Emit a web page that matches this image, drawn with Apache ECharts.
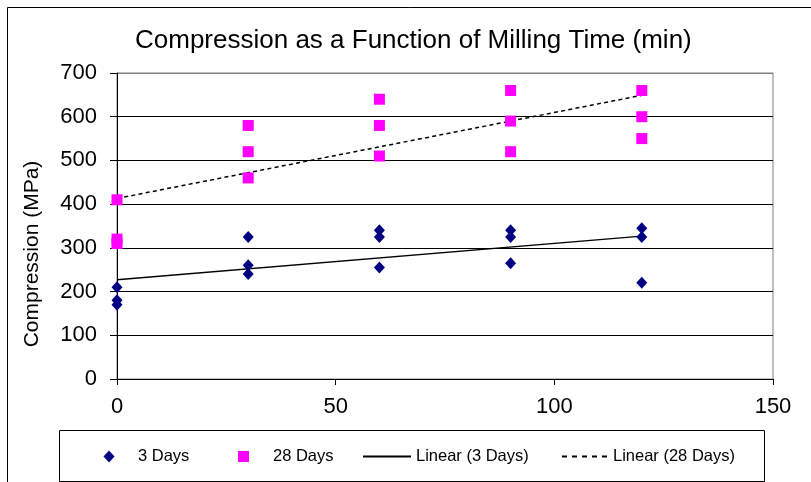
<!DOCTYPE html>
<html>
<head>
<meta charset="utf-8">
<script src="https://cdn.jsdelivr.net/npm/echarts@6/dist/echarts.min.js"></script>
<style>html,body{margin:0;padding:0;background:#fff;}#c{width:811px;height:482px;}</style>
</head>
<body>
<div id="c"></div>
<script>
// Data
const millingTime = [0, 0, 0, 30, 30, 30, 60, 60, 60, 90, 90, 90, 120, 120, 120];
const days3 = [210, 180, 170, 325, 260, 240, 340, 325, 255, 340, 325, 265, 345, 325, 220];
const days28 = [410, 320, 310, 580, 520, 460, 640, 580, 510, 660, 590, 520, 660, 600, 550];
const trendX = [0, 120];
const linear3 = [227, 327];
const linear28 = [413, 649];
const seriesNames = ['3 Days', '28 Days', 'Linear (3 Days)', 'Linear (28 Days)'];
const titleText = 'Compression as a Function of Milling Time (min)';
const yName = 'Compression (MPa)';

const pairs = (xs, ys) => xs.map((x, i) => [x, ys[i]]);
const FONT = 'Liberation Sans, Arial, sans-serif';

const chart = echarts.init(document.getElementById('c'), null, {renderer: 'canvas'});

const legendBase = {
  top: 448, padding: 0, itemWidth: 48, itemHeight: 11,
  selectedMode: false,
  textStyle: {fontFamily: FONT, fontSize: 16.5, color: '#000'}
};

chart.setOption({
  animation: false,
  backgroundColor: '#fff',
  title: {
    text: titleText, left: 130, top: 23,
    textStyle: {fontFamily: FONT, fontSize: 26, fontWeight: 'normal', color: '#000'}
  },
  grid: {left: 117, top: 73, right: 38, bottom: 103, show: true, borderColor: '#808080', borderWidth: 1},
  xAxis: {
    type: 'value', min: 0, max: 150, interval: 50,
    axisLine: {lineStyle: {color: '#000', width: 1}},
    axisTick: {show: true, length: 6, lineStyle: {color: '#000'}},
    axisLabel: {fontFamily: FONT, fontSize: 22, color: '#000', margin: 17},
    splitLine: {show: false}
  },
  yAxis: {
    type: 'value', min: 0, max: 700, interval: 100,
    name: yName, nameLocation: 'middle', nameGap: 74,
    nameTextStyle: {fontFamily: FONT, fontSize: 21, color: '#000', padding: [0, 56, 0, 0]},
    axisLine: {show: true, lineStyle: {color: '#000', width: 1}},
    axisTick: {show: true, length: 7, lineStyle: {color: '#000'}},
    axisLabel: {fontFamily: FONT, fontSize: 22, color: '#000', margin: 20},
    splitLine: {show: true, lineStyle: {color: ['#000', '#000', '#000', '#000', '#000', '#000', '#000', '#808080'], width: 1}}
  },
  legend: [
    Object.assign({}, legendBase, {left: 103.5, itemWidth: 11, itemHeight: 12,
      data: [{name: seriesNames[0], icon: 'diamond'}],
      textStyle: Object.assign({}, legendBase.textStyle, {padding: [0, 0, 0, 18.5]})}),
    Object.assign({}, legendBase, {left: 238, itemWidth: 11, itemHeight: 11,
      data: [{name: seriesNames[1], icon: 'rect'}],
      textStyle: Object.assign({}, legendBase.textStyle, {padding: [0, 0, 0, 19]})}),
    Object.assign({}, legendBase, {left: 362, data: [{name: seriesNames[2], itemStyle: {opacity: 0}}]}),
    Object.assign({}, legendBase, {left: 561, itemWidth: 46,
      data: [{name: seriesNames[3], itemStyle: {opacity: 0}, lineStyle: {type: [5, 5]}}]})
  ],
  graphic: [
    {type: 'rect', left: 57, top: 428, shape: {x: 0, y: 0, width: 705, height: 51},
     style: {fill: 'none', stroke: '#000', lineWidth: 1}, silent: true},
    {type: 'rect', shape: {x: 7.5, y: 7.5, width: 820, height: 490},
     style: {fill: 'none', stroke: '#000', lineWidth: 1}, silent: true}
  ],
  series: [
    {name: seriesNames[2], type: 'line', data: pairs(trendX, linear3), symbol: 'none',
     lineStyle: {color: '#000', width: 1.3, type: 'solid'}, itemStyle: {color: '#000'}, z: 1},
    {name: seriesNames[3], type: 'line', data: pairs(trendX, linear28), symbol: 'none',
     lineStyle: {color: '#000', width: 1.5, type: [4, 3.3]}, itemStyle: {color: '#000'}, z: 1},
    {name: seriesNames[0], type: 'scatter', data: pairs(millingTime, days3), symbol: 'diamond',
     symbolSize: [11, 12], itemStyle: {color: '#000080', opacity: 1}, z: 3},
    {name: seriesNames[1], type: 'scatter', data: pairs(millingTime, days28), symbol: 'rect',
     symbolSize: 11, itemStyle: {color: '#FF00FF', opacity: 1}, z: 2}
  ]
});
</script>
</body>
</html>
